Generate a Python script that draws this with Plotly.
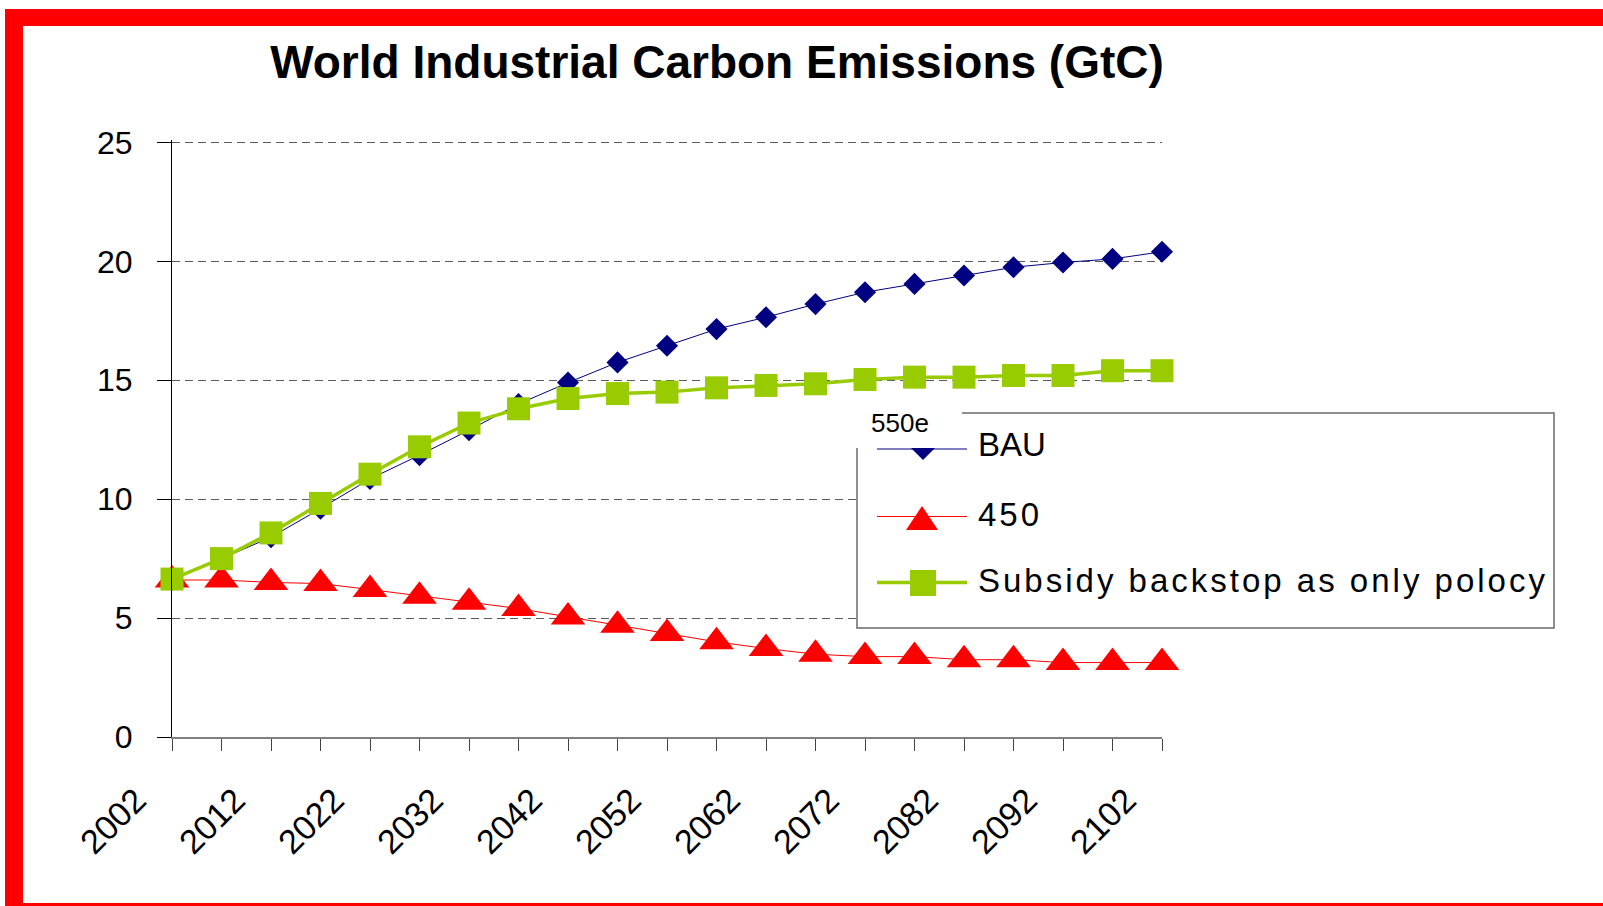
import plotly.graph_objects as go

# chart data
years = [2002, 2007, 2012, 2017, 2022, 2027, 2032, 2037, 2042, 2047, 2052,
         2057, 2062, 2067, 2072, 2077, 2082, 2087, 2092, 2097, 2102]
label_years = [2002, 2012, 2022, 2032, 2042, 2052, 2062, 2072, 2082, 2092, 2102]
y_ticks = [0, 5, 10, 15, 20, 25]

bau = [6.6, 7.5, 8.4, 9.6, 10.85, 11.85, 12.9, 14.0, 14.9, 15.75, 16.45,
       17.15, 17.65, 18.2, 18.7, 19.05, 19.4, 19.75, 19.95, 20.1, 20.4]
s450 = [6.6, 6.6, 6.5, 6.45, 6.2, 5.92, 5.67, 5.4, 5.05, 4.7, 4.35,
        4.0, 3.72, 3.48, 3.38, 3.38, 3.25, 3.25, 3.13, 3.13, 3.13]
subsidy = [6.64, 7.5, 8.58, 9.82, 11.05, 12.2, 13.2, 13.8, 14.23, 14.44, 14.5,
           14.68, 14.78, 14.85, 15.03, 15.13, 15.13, 15.2, 15.2, 15.4, 15.4]

series_names = ["BAU", "450", "Subsidy backstop as only polocy"]
series_colors = ["#000080", "#FF0000", "#99CC00"]

W, H = 1603, 906
L, R, T, B = 172, 1162, 140, 737  # plot area in pixels (y range 0..25.1)
FONT = "Liberation Sans, Arial, sans-serif"


def px(x):
    return (x - L) / (R - L)


def py(y):
    return (B - y) / (B - T)


fig = go.Figure()

fig.add_trace(go.Scatter(
    x=years, y=bau, name=series_names[0], mode="lines+markers",
    line=dict(color=series_colors[0], width=1),
    marker=dict(symbol="diamond", size=17, color=series_colors[0]),
    cliponaxis=False,
))
fig.add_trace(go.Scatter(
    x=years, y=s450, name=series_names[1], mode="lines+markers",
    line=dict(color=series_colors[1], width=1),
    marker=dict(symbol="triangle-up", size=30, color=series_colors[1]),
    cliponaxis=False,
))
fig.add_trace(go.Scatter(
    x=years, y=subsidy, name=series_names[2], mode="lines+markers",
    line=dict(color=series_colors[2], width=3.5),
    marker=dict(symbol="square", size=23, color=series_colors[2]),
    cliponaxis=False,
))


def path(points):
    s = " L ".join("{} {}".format(px(x), py(y)) for x, y in points)
    return "M " + s + " Z"


shapes = []
# legend box: white background, border with a gap where "550e" sits
shapes.append(dict(type="rect", xref="paper", yref="paper", layer="above",
                   x0=px(857), x1=px(1554), y0=py(628), y1=py(413),
                   fillcolor="white", line=dict(width=0)))
shapes.append(dict(type="path", xref="paper", yref="paper", layer="above",
                   path="M {} {} L {} {} L {} {} L {} {} L {} {}".format(
                       px(962), py(413), px(1554), py(413), px(1554), py(628),
                       px(857), py(628), px(857), py(448)),
                   line=dict(color="#6a6a6a", width=1.5)))

# legend entries drawn by hand (long sample lines, big markers like the original)
leg_y = [449, 516.5, 582.5]
leg_w = [1, 1, 3.5]
for yy, c, w in zip(leg_y, series_colors, leg_w):
    shapes.append(dict(type="line", xref="paper", yref="paper", layer="above",
                       x0=px(877), x1=px(967), y0=py(yy), y1=py(yy),
                       line=dict(color=c, width=w)))
# BAU: only the lower half of the diamond shows
shapes.append(dict(type="path", xref="paper", yref="paper", layer="above",
                   path=path([(911, 448), (935, 448), (923, 460)]),
                   fillcolor=series_colors[0], line=dict(width=0)))
shapes.append(dict(type="path", xref="paper", yref="paper", layer="above",
                   path=path([(906, 530), (938, 530), (922, 506)]),
                   fillcolor=series_colors[1], line=dict(width=0)))
shapes.append(dict(type="rect", xref="paper", yref="paper", layer="above",
                   x0=px(910), x1=px(936), y0=py(596), y1=py(570),
                   fillcolor=series_colors[2], line=dict(width=0)))

# red frame around the picture
for x0, x1, y0, y1 in [(5, 1610, 9, 26), (5, 23, 9, 910), (5, 1610, 903, 910)]:
    shapes.append(dict(type="rect", xref="paper", yref="paper", layer="above",
                       x0=px(x0), x1=px(x1), y0=py(y1), y1=py(y0),
                       fillcolor="#FF0000", line=dict(width=0)))

annotations = [dict(
    text="550e", xref="paper", yref="paper", x=px(869), y=py(423),
    xanchor="left", yanchor="middle", showarrow=False,
    font=dict(size=26),
)]
for name, yy in zip(series_names, [444, 514, 580]):
    annotations.append(dict(
        text=name, xref="paper", yref="paper", x=px(976), y=py(yy),
        xanchor="left", yanchor="middle", showarrow=False,
        font=dict(size=33),
    ))

fig.update_layout(
    width=W, height=H,
    margin=dict(l=L, r=W - R, t=T, b=H - B),
    paper_bgcolor="white", plot_bgcolor="white",
    font=dict(family=FONT, color="black", size=30),
    showlegend=False,
    title=dict(
        text="<b>World Industrial Carbon Emissions (GtC)</b>",
        font=dict(size=46, family=FONT),
        x=717 / W, xanchor="center", xref="container",
        y=1 - 62 / H, yanchor="middle", yref="container",
    ),
    xaxis=dict(
        range=[2002, 2102], tickmode="array", tickvals=label_years,
        ticktext=[str(v) for v in label_years],
        tickangle=-45, ticks="outside", ticklen=12, tickcolor="#444",
        ticklabelshift=-36, ticklabelstandoff=16,
        minor=dict(tickmode="array", tickvals=years, ticks="outside",
                   ticklen=12, tickcolor="#444", showgrid=False),
        showline=True, linecolor="#808080", linewidth=1.5,
        showgrid=False, zeroline=False,
        tickfont=dict(size=34),
    ),
    yaxis=dict(
        # a little headroom so the dashed line at 25 is still drawn
        range=[0, 25.1], tickmode="array", tickvals=y_ticks,
        ticks="outside", ticklen=14, tickcolor="black",
        showline=True, linecolor="black", linewidth=1,
        showgrid=True, gridcolor="#5a5a5a", gridwidth=1, griddash="8px,5px",
        zeroline=False, ticklabelstandoff=18,
        tickfont=dict(size=32),
    ),
    shapes=shapes,
    annotations=annotations,
)

# the Excel original sets its legend text quite loosely;
# keep the left edge in place while spreading the letters
js = """
document.body.style.margin = '0px';
document.querySelectorAll('.annotation-text').forEach(function (t) {
    if (t.textContent === '450' || t.textContent.indexOf('Subsidy') === 0) {
        var w0 = t.getComputedTextLength();
        var cx = parseFloat(t.getAttribute('x'));
        t.setAttribute('text-anchor', 'start');
        t.setAttribute('x', cx - w0 / 2);
        t.style.letterSpacing = '3px';
    }
});
"""
fig.write_html("out.html", post_script=js, config={"displayModeBar": False})
